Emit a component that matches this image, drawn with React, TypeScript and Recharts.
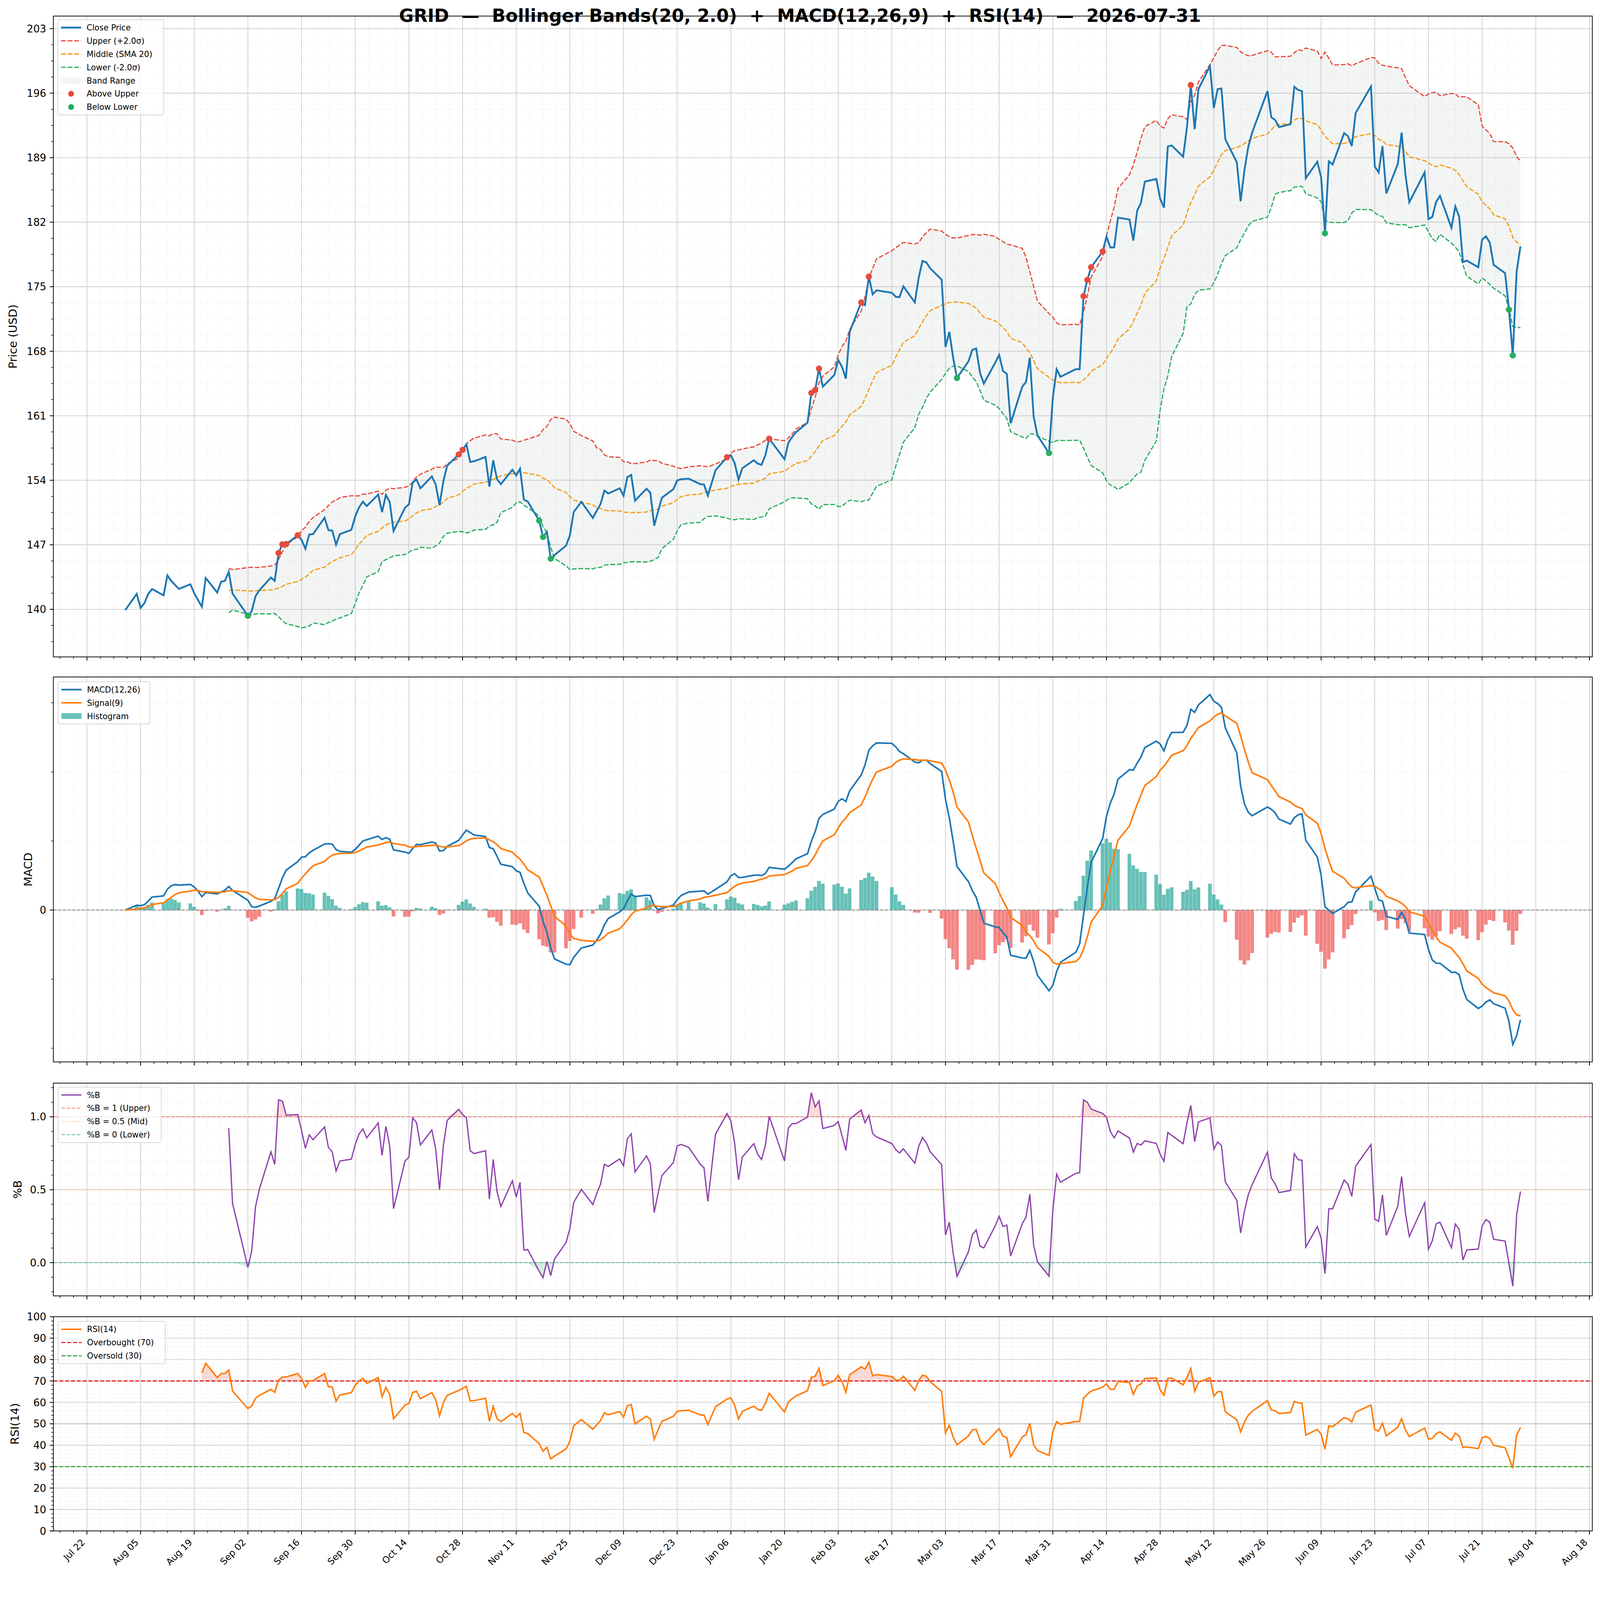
import React from 'react';
import {ComposedChart, Line, Area, Bar, Cell, Scatter, XAxis, YAxis, CartesianGrid, ReferenceLine} from 'recharts';

// trading days shown in the chart
const tradeDates = [
  '2025-08-01','2025-08-04','2025-08-05','2025-08-06','2025-08-07','2025-08-08','2025-08-11','2025-08-12','2025-08-13','2025-08-14','2025-08-15','2025-08-18','2025-08-19','2025-08-20','2025-08-21','2025-08-22','2025-08-25','2025-08-26','2025-08-27','2025-08-28','2025-08-29',
  '2025-09-02','2025-09-03','2025-09-04','2025-09-05','2025-09-08','2025-09-09','2025-09-10','2025-09-11','2025-09-12','2025-09-15','2025-09-16','2025-09-17','2025-09-18','2025-09-19','2025-09-22','2025-09-23','2025-09-24','2025-09-25','2025-09-26','2025-09-29','2025-09-30',
  '2025-10-01','2025-10-02','2025-10-03','2025-10-06','2025-10-07','2025-10-08','2025-10-09','2025-10-10','2025-10-13','2025-10-14','2025-10-15','2025-10-16','2025-10-17','2025-10-20','2025-10-21','2025-10-22','2025-10-23','2025-10-24','2025-10-27','2025-10-28','2025-10-29','2025-10-30','2025-10-31',
  '2025-11-03','2025-11-04','2025-11-05','2025-11-06','2025-11-07','2025-11-10','2025-11-11','2025-11-12','2025-11-13','2025-11-14','2025-11-17','2025-11-18','2025-11-19','2025-11-20','2025-11-21','2025-11-24','2025-11-25','2025-11-26','2025-11-28',
  '2025-12-01','2025-12-02','2025-12-03','2025-12-04','2025-12-05','2025-12-08','2025-12-09','2025-12-10','2025-12-11','2025-12-12','2025-12-15','2025-12-16','2025-12-17','2025-12-18','2025-12-19','2025-12-22','2025-12-23','2025-12-24','2025-12-26','2025-12-29','2025-12-30','2025-12-31',
  '2026-01-02','2026-01-05','2026-01-06','2026-01-07','2026-01-08','2026-01-09','2026-01-12','2026-01-13','2026-01-14','2026-01-15','2026-01-16','2026-01-20','2026-01-21','2026-01-22','2026-01-23','2026-01-26','2026-01-27','2026-01-28','2026-01-29','2026-01-30',
  '2026-02-02','2026-02-03','2026-02-04','2026-02-05','2026-02-06','2026-02-09','2026-02-10','2026-02-11','2026-02-12','2026-02-13','2026-02-17','2026-02-18','2026-02-19','2026-02-20','2026-02-23','2026-02-24','2026-02-25','2026-02-26','2026-02-27',
  '2026-03-02','2026-03-03','2026-03-04','2026-03-05','2026-03-06','2026-03-09','2026-03-10','2026-03-11','2026-03-12','2026-03-13','2026-03-16','2026-03-17','2026-03-18','2026-03-19','2026-03-20','2026-03-23','2026-03-24','2026-03-25','2026-03-26','2026-03-27','2026-03-30','2026-03-31',
  '2026-04-01','2026-04-02','2026-04-06','2026-04-07','2026-04-08','2026-04-09','2026-04-10','2026-04-13','2026-04-14','2026-04-15','2026-04-16','2026-04-17','2026-04-20','2026-04-21','2026-04-22','2026-04-23','2026-04-24','2026-04-27','2026-04-28','2026-04-29','2026-04-30',
  '2026-05-01','2026-05-04','2026-05-05','2026-05-06','2026-05-07','2026-05-08','2026-05-11','2026-05-12','2026-05-13','2026-05-14','2026-05-15','2026-05-18','2026-05-19','2026-05-20','2026-05-21','2026-05-22','2026-05-26','2026-05-27','2026-05-28','2026-05-29',
  '2026-06-01','2026-06-02','2026-06-03','2026-06-04','2026-06-05','2026-06-08','2026-06-09','2026-06-10','2026-06-11','2026-06-12','2026-06-15','2026-06-16','2026-06-17','2026-06-18','2026-06-22','2026-06-23','2026-06-24','2026-06-25','2026-06-26','2026-06-29','2026-06-30',
  '2026-07-01','2026-07-02','2026-07-06','2026-07-07','2026-07-08','2026-07-09','2026-07-10','2026-07-13','2026-07-14','2026-07-15','2026-07-16','2026-07-17','2026-07-20','2026-07-21','2026-07-22','2026-07-23','2026-07-24','2026-07-27','2026-07-28','2026-07-29','2026-07-30','2026-07-31',
];

const closePrices = [
  139.92,141.67,140.15,140.66,141.67,142.21,141.51,143.68,143.09,142.65,142.21,142.72,141.75,141.00,140.28,143.40,141.82,142.98,143.09,144.06,141.70,
  139.30,139.81,141.44,142.06,143.45,143.09,146.12,147.05,147.08,148.04,147.54,146.58,148.11,148.16,149.94,148.59,148.55,147.03,148.16,148.62,150.09,
  151.06,151.68,151.20,152.45,150.55,152.41,151.64,148.50,151.03,151.39,153.78,154.07,153.13,154.42,153.54,151.30,153.91,155.59,156.80,157.30,157.90,155.99,156.06,
  156.53,153.31,156.17,154.11,153.58,155.15,154.52,155.26,151.90,151.70,149.62,147.85,148.41,145.50,145.89,146.91,148.01,150.56,151.66,
  149.91,150.69,151.43,152.87,152.57,153.13,152.33,154.34,154.58,151.79,153.08,152.64,149.08,150.60,152.10,153.04,153.98,154.11,154.18,153.58,153.54,152.33,
  155.09,156.50,156.72,155.85,154.07,155.31,156.18,155.81,155.68,156.72,158.51,156.29,158.07,158.70,159.22,160.25,163.47,163.79,166.12,164.16,
  165.43,167.06,166.30,165.03,170.10,173.30,173.00,176.09,174.17,174.61,174.35,173.91,173.87,175.04,173.30,175.98,177.79,177.65,177.00,
  175.76,168.47,170.10,167.28,165.10,166.91,168.15,168.30,165.67,164.49,166.78,167.61,165.85,165.55,160.18,164.14,164.67,167.31,160.91,158.86,156.95,162.97,
  166.05,165.23,166.05,166.05,173.98,175.74,177.12,178.82,180.44,179.26,179.26,182.49,182.29,180.00,183.23,184.11,186.40,186.69,184.55,183.58,190.22,
  190.33,189.10,192.33,196.88,192.09,196.44,198.94,194.39,196.44,196.50,191.00,188.50,184.27,187.69,190.20,191.72,196.23,193.38,193.09,192.31,
  192.63,196.68,196.34,196.23,186.78,188.56,186.85,180.79,188.60,188.26,191.67,191.33,190.26,193.84,196.73,188.03,187.40,190.26,185.12,188.31,191.72,
  187.12,184.16,187.40,182.34,182.57,184.21,184.85,181.39,183.71,182.62,177.67,177.83,177.11,180.11,180.47,179.79,177.38,176.47,172.51,167.55,176.65,179.38,
];

// x axis: a labelled tick every two weeks, starting 2025-07-22
const xTickLabels = ['Jul 22','Aug 05','Aug 19','Sep 02','Sep 16','Sep 30','Oct 14','Oct 28','Nov 11','Nov 25','Dec 09','Dec 23','Jan 06','Jan 20','Feb 03','Feb 17','Mar 03','Mar 17','Mar 31','Apr 14','Apr 28','May 12','May 26','Jun 09','Jun 23','Jul 07','Jul 21','Aug 04','Aug 18'];
const priceTicks = [140, 147, 154, 161, 168, 175, 182, 189, 196, 203];
const pctBTicks = [0, 0.5, 1];
const rsiTicks = [0, 10, 20, 30, 40, 50, 60, 70, 80, 90, 100];

const TITLE = 'GRID  —  Bollinger Bands(20, 2.0)  +  MACD(12,26,9)  +  RSI(14)  —  2026-07-31';

const BB_N = 20, BB_K = 2;
const FAST = 12, SLOW = 26, SIG = 9;
const RSI_N = 14;

const FONT = 'DejaVu Sans';
const W = 4377, H = 4322;
const PLOT_L = 146, PLOT_R = 4356;

const ORIGIN = Date.UTC(2025, 6, 22);
const dayOf = (s: string) => {
  const [y, m, d] = s.split('-').map(Number);
  return (Date.UTC(y, m - 1, d) - ORIGIN) / 86400000;
};

// recursive EMA seeded with the first value
const ema = (src: number[], span: number) => {
  const a = 2 / (span + 1);
  const out: number[] = [];
  src.forEach((v, i) => out.push(i === 0 ? v : a * v + (1 - a) * out[i - 1]));
  return out;
};

// indicators, following the definitions in the title
const emaFast = ema(closePrices, FAST);
const emaSlow = ema(closePrices, SLOW);
const macdLine = closePrices.map((_, i) => emaFast[i] - emaSlow[i]);
const signalLine = ema(macdLine, SIG);

let avgGain = 0, avgLoss = 0;
const rsiLine: (number | null)[] = closePrices.map((c, i) => {
  if (i === 0) return null;
  const d = c - closePrices[i - 1];
  const g = Math.max(d, 0), l = Math.max(-d, 0);
  if (i === 1) { avgGain = g; avgLoss = l; }
  else { avgGain = avgGain * (1 - 1 / RSI_N) + g / RSI_N; avgLoss = avgLoss * (1 - 1 / RSI_N) + l / RSI_N; }
  if (i < RSI_N) return null;
  return avgLoss === 0 ? 100 : 100 - 100 / (1 + avgGain / avgLoss);
});

const rows = tradeDates.map((date, i) => {
  const c = closePrices[i];
  let upper: number | null = null, middle: number | null = null, lower: number | null = null;
  if (i >= BB_N - 1) {
    const win = closePrices.slice(i - BB_N + 1, i + 1);
    const mean = win.reduce((s, v) => s + v, 0) / BB_N;
    const sd = Math.sqrt(win.reduce((s, v) => s + (v - mean) ** 2, 0) / (BB_N - 1));
    middle = mean; upper = mean + BB_K * sd; lower = mean - BB_K * sd;
  }
  const pctB = upper != null && lower != null ? (c - lower) / (upper - lower) : null;
  const rsi = rsiLine[i];
  return {
    t: dayOf(date), close: c, upper, middle, lower,
    band: upper != null ? [lower, upper] : null,
    pctB,
    pctBHi: pctB != null ? [1, Math.max(1, pctB)] : null,
    pctBLo: pctB != null ? [Math.min(0, pctB), 0] : null,
    macd: macdLine[i], signal: signalLine[i], hist: macdLine[i] - signalLine[i],
    rsi,
    rsiHi: rsi != null ? [70, Math.max(70, rsi)] : null,
    rsiLo: rsi != null ? [Math.min(30, rsi), 30] : null,
  };
});

const aboveUpper = rows.filter(r => r.upper != null && r.close > r.upper);
const belowLower = rows.filter(r => r.lower != null && r.close < r.lower);

// matplotlib style limits: 5% margin around the data (bars are one day wide)
const tFirst = rows[0].t - 0.5, tLast = rows[rows.length - 1].t + 0.5;
const xDomain = [tFirst - 0.05 * (tLast - tFirst), tLast + 0.05 * (tLast - tFirst)];
const xMajor = xTickLabels.map((_, i) => i * 14);
const xMinor: number[] = [];
for (let k = -2; k <= 112; k++) if (k % 4 !== 0) xMinor.push(k * 3.5);

const pad = (lo: number, hi: number) => [lo - 0.05 * (hi - lo), hi + 0.05 * (hi - lo)];
const macdVals = rows.flatMap(r => [r.macd, r.signal, r.hist, 0]);
const macdDomain = pad(Math.min(...macdVals), Math.max(...macdVals));
const macdStep = (macdDomain[1] - macdDomain[0]) * 189 / 1053;
const macdMinor: number[] = [];
for (let k = -10; k <= 10; k++) if (k !== 0) { const v = k * macdStep; if (v > macdDomain[0] && v < macdDomain[1]) macdMinor.push(v); }
const pbVals = rows.filter(r => r.pctB != null).map(r => r.pctB as number);
const pctBDomain = pad(Math.min(...pbVals), Math.max(...pbVals));
const priceDomain = [134.84, 204.36];

const between = (vals: number[], d: number[]) => vals.filter(v => v > d[0] && v < d[1]);
const priceMinor = between(Array.from({length: 44}, (_, k) => 133 + 1.75 * k).filter(v => !priceTicks.includes(Math.round(v * 100) / 100)), priceDomain);
const pctBMinor = between([-0.4, -0.3, -0.2, -0.1, 0.1, 0.2, 0.3, 0.4, 0.6, 0.7, 0.8, 0.9, 1.1, 1.2, 1.3], pctBDomain);
const rsiMinor = Array.from({length: 51}, (_, k) => 2 * k).filter(v => v % 10 !== 0);

// the page may be narrower than the figure: fit its width to the viewport
if (typeof document !== 'undefined') {
  document.documentElement.style.overflow = 'hidden';
  document.body.style.margin = '0';
  document.body.style.overflow = 'hidden';
}
const viewW = typeof window !== 'undefined' && window.innerWidth ? window.innerWidth : W;
const S = viewW / W;

const xTick = (labels: boolean) => (p: any) => {
  const v = p.payload.value;
  const idx = xMajor.indexOf(v);
  const major = idx >= 0;
  const x = p.x, y = p.y;
  return (
    <g>
      <line x1={x} x2={x} y1={y} y2={y + (major ? 9.7 : 5.6)} stroke="#000" strokeWidth={major ? 2.2 : 1.7} />
      {labels && major && (
        <text x={x - 4} y={y + 33} textAnchor="end" transform={`rotate(-45 ${x - 4} ${y + 33})`} fontSize={25} fontFamily={FONT} fill="#000">{xTickLabels[idx]}</text>
      )}
    </g>
  );
};

const yTick = (majors: number[], fmt: (v: number) => string) => (p: any) => {
  const v = p.payload.value;
  const major = majors.some(m => Math.abs(m - v) < 1e-9);
  return (
    <g>
      <line x1={p.x} x2={p.x - (major ? 9.7 : 5.6)} y1={p.y} y2={p.y} stroke="#000" strokeWidth={major ? 2.2 : 1.7} />
      {major && <text x={p.x - 19.4} y={p.y} dy="0.36em" textAnchor="end" fontSize={28} fontFamily={FONT} fill="#000">{fmt(v)}</text>}
    </g>
  );
};

const axes = (yDomain: number[], yMajor: number[], yMinor: number[], fmt: (v: number) => string, xh: number, labels: boolean) => [
  <CartesianGrid key="gmin" verticalValues={xMinor} horizontalValues={yMinor} stroke="#e2e2e2" strokeWidth={1.4} strokeDasharray="2 4" />,
  <CartesianGrid key="gmaj" verticalValues={xMajor} horizontalValues={yMajor} stroke="#cfcfcf" strokeWidth={2} />,
  <XAxis key="x" type="number" dataKey="t" domain={xDomain} allowDataOverflow ticks={[...xMajor, ...xMinor].sort((a, b) => a - b)} interval={0}
    tickSize={0} tickMargin={0} axisLine={false} tickLine={false} height={xh} tick={xTick(labels)} />,
  <YAxis key="y" type="number" domain={yDomain} allowDataOverflow ticks={[...yMajor, ...yMinor].sort((a, b) => a - b)} interval={0}
    width={PLOT_L} tickSize={0} tickMargin={0} axisLine={false} tickLine={false} tick={yTick(yMajor, fmt)} />,
];

type Entry = {label: string; kind: 'line' | 'rect' | 'dot'; color: string; dash?: string; width?: number; opacity?: number};

function LegendBox({left, top, width, entries}: {left: number; top: number; width: number; entries: Entry[]}) {
  const first = 21.5, step = 36.2;
  const height = first * 2 + (entries.length - 1) * step;
  return (
    <svg style={{position: 'absolute', left, top, overflow: 'visible'}} width={width} height={height}>
      <rect x={0} y={0} width={width} height={height} rx={5} fill="#fff" fillOpacity={0.8} stroke="#cccccc" strokeWidth={1.6} />
      {entries.map((e, i) => {
        const cy = first + i * step;
        return (
          <g key={e.label}>
            {e.kind === 'line' && <line x1={9} x2={64} y1={cy} y2={cy} stroke={e.color} strokeWidth={e.width ?? 4} strokeDasharray={e.dash} strokeOpacity={e.opacity ?? 1} />}
            {e.kind === 'rect' && <rect x={9} y={cy - 8} width={55} height={16} fill={e.color} fillOpacity={e.opacity ?? 1} />}
            {e.kind === 'dot' && <circle cx={36.5} cy={cy} r={8} fill={e.color} />}
            <text x={79} y={cy} dy="0.36em" fontSize={22} fontFamily={FONT} fill="#000">{e.label}</text>
          </g>
        );
      })}
    </svg>
  );
}

function Frame({top, height}: {top: number; height: number}) {
  return <div style={{position: 'absolute', left: PLOT_L - 1, top: top - 1, width: PLOT_R - PLOT_L + 2, height: height + 2, border: '2.2px solid #000', boxSizing: 'border-box', pointerEvents: 'none'}} />;
}

const P1 = {top: 44, h: 1753};
const P2 = {top: 1852, h: 1053};
const P3 = {top: 2963, h: 582};
const P4 = {top: 3602, h: 586};
const MT = 20;

const noDot = {dot: false, activeDot: false, isAnimationActive: false} as const;

export default function App() {
  const margin = {top: MT, right: W - PLOT_R, bottom: 0, left: 0};
  return (
    <div style={{position: 'fixed', left: 0, top: 0, width: W, height: H, background: '#fff', fontFamily: FONT,
      transform: `scale(${S})`, transformOrigin: '0 0', overflow: 'hidden'}}>
      {/* price + Bollinger bands */}
      <div style={{position: 'absolute', left: 0, top: P1.top - MT}}>
        <ComposedChart width={W} height={P1.h + MT + 30} data={rows} margin={margin}>
          {axes(priceDomain, priceTicks, priceMinor, v => String(v), 30, false)}
          <Area dataKey="band" stroke="none" fill="#95a5a6" fillOpacity={0.11} isAnimationActive={false} />
          <Line dataKey="upper" stroke="#e74c3c" strokeWidth={3.3} strokeDasharray="13 5" {...noDot} />
          <Line dataKey="middle" stroke="#f39c12" strokeWidth={3.3} strokeDasharray="13 5" {...noDot} />
          <Line dataKey="lower" stroke="#27ae60" strokeWidth={3.3} strokeDasharray="13 5" {...noDot} />
          <Line dataKey="close" stroke="#1f77b4" strokeWidth={5} {...noDot} />
          <Scatter data={aboveUpper} dataKey="close" isAnimationActive={false} shape={(p: any) => <circle cx={p.cx} cy={p.cy} r={8.5} fill="#e74c3c" />} />
          <Scatter data={belowLower} dataKey="close" isAnimationActive={false} shape={(p: any) => <circle cx={p.cx} cy={p.cy} r={8.5} fill="#27ae60" />} />
        </ComposedChart>
      </div>

      {/* MACD */}
      <div style={{position: 'absolute', left: 0, top: P2.top - MT}}>
        <ComposedChart width={W} height={P2.h + MT + 30} data={rows} margin={margin}>
          {axes(macdDomain, [0], macdMinor, () => '0', 30, false)}
          <Bar dataKey="hist" barSize={10} isAnimationActive={false}>
            {rows.map((r, i) => <Cell key={i} fill={r.hist >= 0 ? '#26a69a' : '#ef5350'} fillOpacity={0.7} />)}
          </Bar>
          <ReferenceLine y={0} stroke="#808080" strokeWidth={2.2} strokeDasharray="8 5" />
          <Line dataKey="macd" stroke="#1f77b4" strokeWidth={4.4} {...noDot} />
          <Line dataKey="signal" stroke="#ff7f0e" strokeWidth={4.4} {...noDot} />
        </ComposedChart>
      </div>

      {/* %B */}
      <div style={{position: 'absolute', left: 0, top: P3.top - MT}}>
        <ComposedChart width={W} height={P3.h + MT + 30} data={rows} margin={margin}>
          {axes(pctBDomain, pctBTicks, pctBMinor, v => v.toFixed(1), 30, false)}
          <ReferenceLine y={1} stroke="#e74c3c" strokeOpacity={0.7} strokeWidth={2.2} strokeDasharray="10 4" />
          <ReferenceLine y={0.5} stroke="#f39c12" strokeOpacity={0.7} strokeWidth={2.2} strokeDasharray="2 3" />
          <ReferenceLine y={0} stroke="#16a085" strokeOpacity={0.7} strokeWidth={2.2} strokeDasharray="10 4" />
          <Area dataKey="pctBHi" stroke="none" fill="#e74c3c" fillOpacity={0.2} isAnimationActive={false} />
          <Area dataKey="pctBLo" stroke="none" fill="#27ae60" fillOpacity={0.2} isAnimationActive={false} />
          <Line dataKey="pctB" stroke="#8e44ad" strokeWidth={3.5} {...noDot} />
        </ComposedChart>
      </div>

      {/* RSI */}
      <div style={{position: 'absolute', left: 0, top: P4.top - MT}}>
        <ComposedChart width={W} height={P4.h + MT + 120} data={rows} margin={margin}>
          {axes([0, 100], rsiTicks, rsiMinor, v => String(v), 120, true)}
          <ReferenceLine y={50} stroke="#808080" strokeWidth={1.8} strokeDasharray="2 3" />
          <ReferenceLine y={70} stroke="#e31a1c" strokeWidth={3} strokeDasharray="11 5" />
          <ReferenceLine y={30} stroke="#2ca02c" strokeWidth={3} strokeDasharray="11 5" />
          <Area dataKey="rsiHi" stroke="none" fill="#e74c3c" fillOpacity={0.2} isAnimationActive={false} />
          <Area dataKey="rsiLo" stroke="none" fill="#2ca02c" fillOpacity={0.2} isAnimationActive={false} />
          <Line dataKey="rsi" stroke="#ff7f0e" strokeWidth={4.2} {...noDot} />
        </ComposedChart>
      </div>

      <Frame top={P1.top} height={P1.h} />
      <Frame top={P2.top} height={P2.h} />
      <Frame top={P3.top} height={P3.h} />
      <Frame top={P4.top} height={P4.h} />

      <LegendBox left={158} top={54} width={290} entries={[
        {label: 'Close Price', kind: 'line', color: '#1f77b4', width: 5},
        {label: 'Upper (+2.0σ)', kind: 'line', color: '#e74c3c', width: 3.3, dash: '13 5'},
        {label: 'Middle (SMA 20)', kind: 'line', color: '#f39c12', width: 3.3, dash: '13 5'},
        {label: 'Lower (-2.0σ)', kind: 'line', color: '#27ae60', width: 3.3, dash: '13 5'},
        {label: 'Band Range', kind: 'rect', color: '#95a5a6', opacity: 0.11},
        {label: 'Above Upper', kind: 'dot', color: '#e74c3c'},
        {label: 'Below Lower', kind: 'dot', color: '#27ae60'},
      ]} />
      <LegendBox left={159} top={1865} width={251} entries={[
        {label: 'MACD(12,26)', kind: 'line', color: '#1f77b4', width: 4.4},
        {label: 'Signal(9)', kind: 'line', color: '#ff7f0e', width: 4.4},
        {label: 'Histogram', kind: 'rect', color: '#26a69a', opacity: 0.7},
      ]} />
      <LegendBox left={159} top={2974} width={282} entries={[
        {label: '%B', kind: 'line', color: '#8e44ad', width: 3.5},
        {label: '%B = 1 (Upper)', kind: 'line', color: '#e74c3c', width: 2.2, dash: '10 4', opacity: 0.7},
        {label: '%B = 0.5 (Mid)', kind: 'line', color: '#f39c12', width: 2.2, dash: '2 3', opacity: 0.7},
        {label: '%B = 0 (Lower)', kind: 'line', color: '#16a085', width: 2.2, dash: '10 4', opacity: 0.7},
      ]} />
      <LegendBox left={159} top={3615} width={293} entries={[
        {label: 'RSI(14)', kind: 'line', color: '#ff7f0e', width: 4.2},
        {label: 'Overbought (70)', kind: 'line', color: '#e31a1c', width: 3, dash: '11 5'},
        {label: 'Oversold (30)', kind: 'line', color: '#2ca02c', width: 3, dash: '11 5'},
      ]} />

      <svg style={{position: 'absolute', left: 0, top: 0, pointerEvents: 'none'}} width={W} height={H}>
        <text x={W / 2} y={60} textAnchor="middle" fontSize={49} fontWeight="bold" fontFamily={FONT} fill="#000" style={{whiteSpace: 'pre'}}>{TITLE}</text>
        <text transform={`translate(46 ${P1.top + P1.h / 2}) rotate(-90)`} textAnchor="middle" fontSize={31} fontFamily={FONT} fill="#000">Price (USD)</text>
        <text transform={`translate(88 ${P2.top + P2.h / 2}) rotate(-90)`} textAnchor="middle" fontSize={31} fontFamily={FONT} fill="#000">MACD</text>
        <text transform={`translate(59 ${P3.top + P3.h / 2}) rotate(-90)`} textAnchor="middle" fontSize={31} fontFamily={FONT} fill="#000">%B</text>
        <text transform={`translate(51 ${P4.top + P4.h / 2}) rotate(-90)`} textAnchor="middle" fontSize={31} fontFamily={FONT} fill="#000">RSI(14)</text>
      </svg>
    </div>
  );
}
